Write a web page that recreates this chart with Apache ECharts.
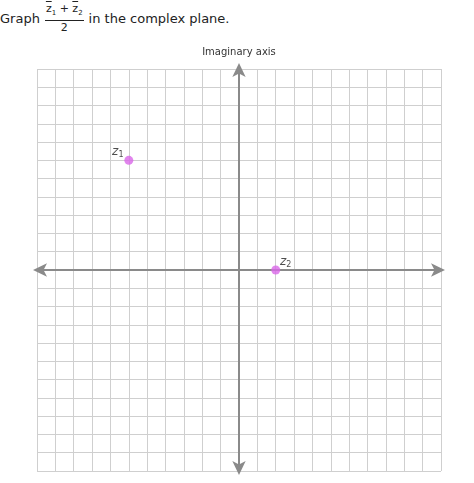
<!DOCTYPE html>
<html>
<head>
<meta charset="utf-8">
<script src="https://cdn.jsdelivr.net/npm/echarts@6/dist/echarts.min.js"></script>
<style>
  html, body { margin: 0; padding: 0; background: #fff; }
  #chart { width: 474px; height: 483px; }
  #title { position: absolute; left: 0; top: 2px; font: 13px Verdana, "DejaVu Sans", sans-serif; color: #222; display: flex; align-items: center; }
  .frac { display: inline-flex; flex-direction: column; align-items: center; margin: 0 5px; font-size: 11px; line-height: 13px; }
  .frac .num { border-bottom: 1px solid #222; padding: 0 1px; }
  .frac .num span { text-decoration: overline; }
</style>
</head>
<body>
<div id="title">Graph <span class="frac"><span class="num"><span>z</span><sub style="font-size:7px">1</sub> + <span>z</span><sub style="font-size:7px">2</sub></span><span>2</span></span> in the complex plane.</div>
<div id="chart"></div>
<script>
const points = [[-6, 6], [2, 0]];
const pointNames = ['1', '2'];
const labelPos = [[-11, -8], [10, -8]];
const xTicks = [-10, -8, -6, -4, -2, 0, 2, 4, 6, 8, 10];
const yTicks = [-10, -8, -6, -4, -2, 2, 4, 6, 8, 10];

const chart = echarts.init(document.getElementById('chart'));

const axisColor = '#8a8a8a';
const tickLabel = { fontFamily: 'DejaVu Sans', fontSize: 11, color: '#333', backgroundColor: '#fff', padding: [0, 1] };

chart.setOption({
  animation: false,
  grid: { left: 37, right: 33, top: 69, bottom: 12, outerBoundsMode: 'none' },
  xAxis: {
    type: 'value', min: -11, max: 11, interval: 1,
    axisLine: { onZero: true, symbol: ['arrow', 'arrow'], symbolSize: [10, 14], symbolOffset: [-4, 4], lineStyle: { color: axisColor, width: 2 } },
    axisTick: { show: false },
    splitLine: { lineStyle: { color: '#cfcfcf', width: 1 } },
    axisLabel: { show: false }
  },
  yAxis: {
    type: 'value', min: -11, max: 11, interval: 1,
    name: 'Imaginary axis', nameLocation: 'end', nameGap: 12,
    nameTextStyle: { fontFamily: 'DejaVu Sans', fontSize: 10, color: '#333' },
    axisLine: { onZero: true, symbol: ['arrow', 'arrow'], symbolSize: [10, 14], symbolOffset: [-4, 6], lineStyle: { color: axisColor, width: 2 } },
    axisTick: { show: false },
    splitLine: { lineStyle: { color: '#cfcfcf', width: 1 } },
    axisLabel: { show: false }
  },
  series: [
    {
      type: 'scatter', symbol: 'none', silent: true, z: 3,
      data: xTicks.map(v => ({
        value: [v, 0],
        label: Object.assign({ show: true, position: 'bottom', distance: 5, offset: [v === 0 ? -6 : 0, 0], formatter: String(v) }, tickLabel)
      }))
    },
    {
      type: 'scatter', symbol: 'none', silent: true, z: 3,
      data: yTicks.map(v => ({
        value: [0, v],
        label: Object.assign({ show: true, position: 'left', distance: 4, formatter: String(v).replace('-', '\u2212') }, tickLabel)
      }))
    },
    {
      type: 'scatter', symbol: 'none', silent: true, z: 3,
      data: [{
        value: [11, 0],
        label: { show: true, position: 'insideLeft', offset: [-13, -11], formatter: 'Real axis', fontFamily: 'DejaVu Sans', fontSize: 10, color: '#333' }
      }]
    },
    {
      type: 'scatter',
      symbolSize: 9, z: 4,
      itemStyle: { color: '#d966e8' },
      data: points.map((p, i) => ({
        value: p,
        label: {
          show: true, position: 'inside', offset: labelPos[i],
          formatter: '{z|z}{s|' + pointNames[i] + '}',
          rich: {
            z: { fontFamily: 'DejaVu Sans', fontStyle: 'italic', fontSize: 12, color: '#222' },
            s: { fontFamily: 'DejaVu Sans', fontSize: 8, color: '#222', verticalAlign: 'bottom', padding: [6, 0, 0, 0] }
          }
        }
      }))
    }
  ]
});
</script>
</body>
</html>
